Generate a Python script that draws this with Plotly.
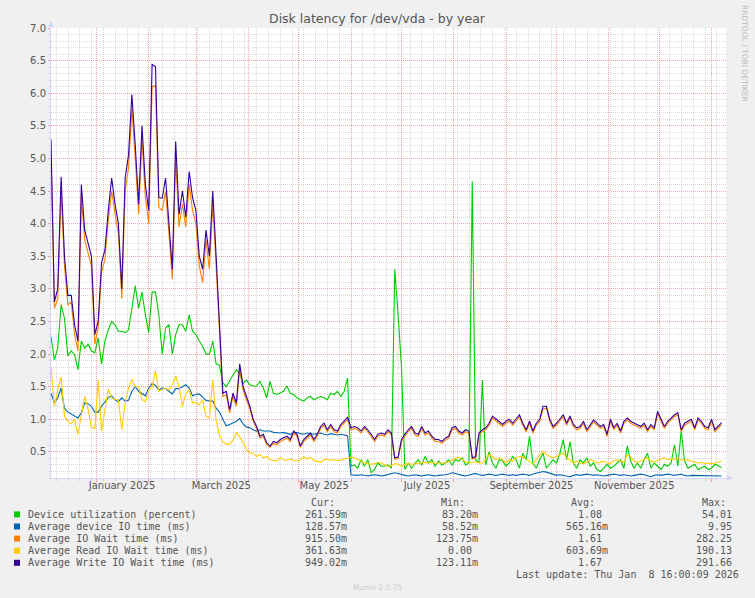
import pandas as pd
import plotly.graph_objects as go

# --- data (2-day samples) ---
x_start = "2024-12-04 21:00"
x_end = "2026-01-09 11:00"
dates = pd.date_range(x_start, periods=200, freq="2D")

util = [
    2.27, 1.91, 2.09, 2.76, 2.55, 1.97, 2.05, 1.99, 1.76, 2.2,
    2.09, 2.15, 2.05, 2.02, 2.25, 1.85, 2.2, 2.37, 2.5, 2.45,
    2.35, 2.35, 2.33, 2.37, 2.7, 3.05, 2.7, 2.95, 2.6, 2.33,
    2.95, 2.95, 2.6, 2.0, 2.4, 2.45, 2.0, 2.3, 2.45, 2.45,
    2.35, 2.6, 2.35, 2.3, 2.2, 2.12, 2.0, 2.0, 2.2, 1.85,
    1.83, 1.56, 1.5, 1.6, 1.68, 1.76, 1.7, 1.55, 1.6, 1.53,
    1.51, 1.51, 1.58, 1.48, 1.33, 1.58, 1.40, 1.38, 1.40, 1.43,
    1.51, 1.40, 1.38, 1.33, 1.30, 1.28, 1.33, 1.35, 1.30, 1.33,
    1.35, 1.33, 1.30, 1.40, 1.38, 1.43, 1.35, 1.43, 1.63, 0.28,
    0.30, 0.25, 0.38, 0.28, 0.38, 0.18, 0.23, 0.33, 0.28, 0.28,
    0.30, 0.25, 3.3, 2.6, 1.8, 0.23, 0.33, 0.25, 0.33, 0.38,
    0.30, 0.43, 0.33, 0.38, 0.28, 0.36, 0.30, 0.33, 0.38, 0.30,
    0.38, 0.36, 0.41, 0.30, 0.33, 4.65, 0.38, 0.33, 1.6, 0.30,
    0.5, 0.33, 0.25, 0.38, 0.36, 0.28, 0.33, 0.43, 0.38, 0.25,
    0.48, 0.38, 0.74, 0.33, 0.25, 0.38, 0.48, 0.25, 0.31, 0.38,
    0.33, 0.48, 0.69, 0.38, 0.66, 0.33, 0.25, 0.38, 0.33, 0.41,
    0.28, 0.33, 0.23, 0.20, 0.25, 0.31, 0.25, 0.28, 0.33, 0.38,
    0.25, 0.59, 0.36, 0.25, 0.33, 0.25, 0.38, 0.48, 0.25, 0.33,
    0.28, 0.23, 0.31, 0.28, 0.33, 0.61, 0.28, 0.82, 0.36, 0.25,
    0.28, 0.31, 0.23, 0.25, 0.28, 0.23, 0.25, 0.31, 0.28, 0.26,
]

dev_io = [
    1.40, 1.25, 1.33, 1.48, 1.17, 1.11, 1.08, 1.05, 1.02, 1.10,
    1.25, 1.24, 1.20, 1.11, 1.11, 1.20, 1.26, 1.33, 1.36, 1.30,
    1.27, 1.33, 1.28, 1.29, 1.43, 1.50, 1.43, 1.39, 1.36, 1.48,
    1.55, 1.52, 1.45, 1.48, 1.47, 1.43, 1.39, 1.47, 1.47, 1.50,
    1.53, 1.48, 1.36, 1.38, 1.39, 1.34, 1.29, 1.28, 1.28, 1.17,
    1.11, 1.00, 0.90, 0.92, 0.94, 0.97, 1.01, 0.93, 0.88, 0.87,
    0.84, 0.82, 0.84, 0.82, 0.82, 0.82, 0.80, 0.79, 0.79, 0.80,
    0.78, 0.77, 0.79, 0.80, 0.78, 0.77, 0.79, 0.78, 0.77, 0.78,
    0.79, 0.77, 0.76, 0.78, 0.77, 0.76, 0.77, 0.76, 0.75, 0.15,
    0.14, 0.14, 0.15, 0.14, 0.13, 0.14, 0.15, 0.14, 0.13, 0.14,
    0.15, 0.16, 0.18, 0.17, 0.15, 0.14, 0.13, 0.14, 0.15, 0.14,
    0.13, 0.14, 0.15, 0.14, 0.13, 0.14, 0.14, 0.15, 0.16, 0.18,
    0.17, 0.15, 0.14, 0.13, 0.14, 0.16, 0.17, 0.15, 0.14, 0.15,
    0.16, 0.15, 0.14, 0.15, 0.16, 0.15, 0.14, 0.15, 0.14, 0.15,
    0.16, 0.15, 0.14, 0.16, 0.17, 0.18, 0.20, 0.19, 0.17, 0.15,
    0.14, 0.15, 0.14, 0.13, 0.12, 0.14, 0.15, 0.14, 0.15, 0.16,
    0.15, 0.14, 0.15, 0.14, 0.13, 0.14, 0.15, 0.16, 0.15, 0.14,
    0.15, 0.14, 0.13, 0.14, 0.15, 0.16, 0.15, 0.14, 0.12, 0.14,
    0.15, 0.14, 0.15, 0.16, 0.15, 0.14, 0.15, 0.16, 0.14, 0.13,
    0.14, 0.14, 0.13, 0.14, 0.13, 0.13, 0.13, 0.13, 0.13, 0.13,
]

io_wait = [
    5.0, 2.7, 2.85, 4.5, 3.35, 2.75, 2.8, 2.3, 2.05, 4.4,
    3.75, 3.55, 3.35, 2.15, 2.4, 3.25, 3.45, 4.05, 4.5, 4.15,
    3.85, 2.85, 4.5, 4.85, 5.75, 5.0, 4.15, 5.3, 4.4, 4.0,
    6.1, 6.12, 4.25, 4.2, 4.5, 3.85, 3.15, 5.0, 3.95, 4.3,
    3.95, 4.6, 4.2, 4.0, 3.35, 3.1, 3.75, 3.3, 4.3, 3.35,
    2.3, 1.35, 1.38, 1.1, 1.35, 1.2, 1.78, 1.45, 1.3, 1.16,
    0.97, 0.86, 0.71, 0.74, 0.61, 0.57, 0.63, 0.61, 0.66, 0.68,
    0.71, 0.66, 0.79, 0.74, 0.57, 0.66, 0.71, 0.76, 0.66, 0.74,
    0.86, 0.91, 0.81, 0.89, 0.81, 0.79, 0.89, 0.94, 1.0, 0.84,
    0.86, 0.84, 0.79, 0.86, 0.81, 0.74, 0.66, 0.74, 0.76, 0.74,
    0.81, 0.76, 0.39, 0.40, 0.66, 0.74, 0.81, 0.86, 0.76, 0.74,
    0.86, 0.76, 0.79, 0.71, 0.66, 0.66, 0.63, 0.68, 0.71, 0.84,
    0.86, 0.79, 0.76, 0.81, 0.79, 0.39, 0.41, 0.76, 0.81, 0.84,
    0.91, 1.02, 0.98, 0.94, 0.89, 0.94, 0.97, 0.91, 0.97, 1.04,
    0.91, 0.81, 0.94, 0.79, 0.91, 0.97, 1.16, 1.17, 0.97, 0.86,
    0.91, 0.97, 1.04, 0.91, 1.02, 0.89, 0.84, 0.86, 0.94, 0.81,
    0.89, 0.96, 0.91, 0.86, 0.89, 0.74, 0.97, 0.84, 0.91, 0.79,
    0.94, 0.99, 0.94, 0.91, 0.89, 0.86, 0.91, 0.81, 0.89, 0.84,
    1.09, 0.97, 0.86, 0.94, 0.99, 1.04, 1.07, 0.81, 0.91, 0.94,
    0.97, 0.84, 0.99, 0.94, 0.86, 0.84, 0.97, 0.81, 0.86, 0.92,
]

read_wait = [
    1.8, 1.2, 1.45, 1.65, 1.05, 0.96, 0.93, 1.0, 0.77, 1.05,
    1.35, 1.15, 0.88, 0.86, 1.6, 0.82, 1.15, 1.46, 1.33, 1.3,
    1.3, 0.84, 1.25, 1.48, 1.61, 1.5, 1.5, 1.3, 1.27, 1.45,
    1.5, 1.75, 1.43, 1.45, 1.48, 1.45, 1.53, 1.66, 1.5, 1.2,
    1.4, 1.45, 1.25, 1.26, 1.22, 1.3, 1.05, 1.02, 1.6, 0.98,
    0.76, 0.65, 0.62, 0.62, 0.68, 0.8, 0.73, 0.64, 0.54, 0.48,
    0.48, 0.43, 0.46, 0.41, 0.43, 0.38, 0.37, 0.36, 0.41, 0.38,
    0.37, 0.39, 0.37, 0.36, 0.38, 0.43, 0.39, 0.42, 0.37, 0.36,
    0.34, 0.38, 0.39, 0.37, 0.38, 0.37, 0.37, 0.39, 0.41, 0.42,
    0.41, 0.38, 0.36, 0.33, 0.32, 0.31, 0.32, 0.34, 0.33, 0.31,
    0.28, 0.29, 0.32, 0.31, 0.28, 0.31, 0.32, 0.31, 0.32, 0.33,
    0.33, 0.34, 0.33, 0.34, 0.33, 0.33, 0.33, 0.33, 0.35, 0.38,
    0.40, 0.42, 0.38, 0.35, 0.33, 0.34, 0.35, 0.33, 0.33, 0.38,
    0.46, 0.43, 0.38, 0.41, 0.38, 0.33, 0.38, 0.36, 0.41, 0.43,
    0.43, 0.38, 0.36, 0.31, 0.38, 0.46, 0.51, 0.46, 0.43, 0.41,
    0.43, 0.46, 0.48, 0.41, 0.38, 0.33, 0.36, 0.33, 0.32, 0.34,
    0.38, 0.36, 0.33, 0.34, 0.36, 0.33, 0.32, 0.36, 0.38, 0.36,
    0.34, 0.46, 0.43, 0.36, 0.34, 0.36, 0.38, 0.41, 0.36, 0.34,
    0.37, 0.39, 0.41, 0.38, 0.38, 0.39, 0.41, 0.38, 0.37, 0.38,
    0.36, 0.34, 0.33, 0.34, 0.32, 0.33, 0.32, 0.33, 0.34, 0.36,
]

write_wait = [
    5.29, 2.8, 3.0, 4.72, 3.5, 2.9, 2.9, 2.45, 2.2, 4.6,
    3.9, 3.7, 3.5, 2.3, 2.5, 3.4, 3.6, 4.2, 4.7, 4.3,
    4.0, 3.0, 4.7, 5.05, 5.98, 5.2, 4.3, 5.5, 4.6, 4.2,
    6.44, 6.41, 4.4, 4.39, 4.7, 4.0, 3.3, 5.26, 4.14, 4.5,
    4.1, 4.8, 4.4, 4.2, 3.5, 3.3, 3.9, 3.5, 4.5, 3.5,
    2.4, 1.4, 1.43, 1.15, 1.4, 1.25, 1.85, 1.5, 1.35, 1.2,
    1.0, 0.89, 0.74, 0.77, 0.64, 0.59, 0.66, 0.64, 0.69, 0.71,
    0.74, 0.69, 0.82, 0.77, 0.59, 0.69, 0.74, 0.79, 0.69, 0.77,
    0.89, 0.94, 0.84, 0.92, 0.84, 0.82, 0.92, 0.97, 1.03, 0.87,
    0.89, 0.87, 0.82, 0.89, 0.84, 0.77, 0.69, 0.77, 0.79, 0.77,
    0.84, 0.79, 0.41, 0.42, 0.69, 0.77, 0.84, 0.89, 0.79, 0.77,
    0.89, 0.79, 0.82, 0.74, 0.69, 0.69, 0.66, 0.71, 0.74, 0.87,
    0.89, 0.82, 0.79, 0.84, 0.82, 0.41, 0.43, 0.79, 0.84, 0.87,
    0.94, 1.05, 1.01, 0.97, 0.92, 0.97, 1.0, 0.94, 1.0, 1.07,
    0.94, 0.84, 0.97, 0.82, 0.94, 1.0, 1.2, 1.2, 1.0, 0.89,
    0.94, 1.0, 1.07, 0.94, 1.05, 0.92, 0.87, 0.89, 0.97, 0.84,
    0.92, 0.99, 0.94, 0.89, 0.92, 0.77, 1.0, 0.87, 0.94, 0.82,
    0.97, 1.02, 0.97, 0.94, 0.92, 0.89, 0.94, 0.84, 0.92, 0.87,
    1.12, 1.0, 0.89, 0.97, 1.02, 1.07, 1.1, 0.84, 0.94, 0.97,
    1.0, 0.87, 1.02, 0.97, 0.89, 0.87, 1.0, 0.84, 0.89, 0.95,
]

series_names = [
    "Device utilization (percent)",
    "Average device IO time (ms)",
    "Average IO Wait time (ms)",
    "Average Read IO Wait time (ms)",
    "Average Write IO Wait time (ms)",
]
series_colors = ["#00CC00", "#0066B3", "#FF8000", "#FFCC00", "#330099"]
series_values = [util, dev_io, io_wait, read_wait, write_wait]

cur_vals = ["261.59m", "128.57m", "915.50m", "361.63m", "949.02m"]
min_vals = ["83.20m", "58.52m", "123.75m", "0.00\u00a0", "123.11m"]
avg_vals = ["1.08\u00a0", "565.16m", "1.61\u00a0", "603.69m", "1.67\u00a0"]
max_vals = ["54.01\u00a0", "9.95\u00a0", "282.25\u00a0", "190.13\u00a0", "291.66\u00a0"]

month_label_dates = ["2025-01-16", "2025-03-16", "2025-05-16",
                     "2025-07-16", "2025-09-16", "2025-11-16"]
month_labels = ["January 2025", "March 2025", "May 2025",
                "July 2025", "September 2025", "November 2025"]

title = "Disk latency for /dev/vda - by year"
last_update = "Last update: Thu Jan\u00a0 8 16:00:09 2026"

# --- page geometry (pixels) ---
W, H = 755, 598
PL, PT, PW, PH = 51, 28, 675, 450


def px(x):
    return (x - PL) / PW


def py(y):
    return (PT + PH - y) / PH


AXIS = "#CFD6F8"
FONT = "#555555"
MGRID = "rgba(222,79,79,0.5)"
GRID = "rgba(143,143,143,0.32)"
MONO = "DejaVu Sans Mono"
SANS = "DejaVu Sans"

fig = go.Figure()

# dummy trace so the grid axis exists
fig.add_trace(go.Scatter(x=[x_start, x_end], y=[None, None], xaxis="x", yaxis="y",
                         showlegend=False, hoverinfo="skip", mode="lines"))

for name, color, vals in zip(series_names, series_colors, series_values):
    fig.add_trace(go.Scatter(
        x=dates, y=vals, name=name, mode="lines", xaxis="x2", yaxis="y",
        line=dict(color=color, width=1.1), showlegend=False, hoverinfo="skip",
    ))

fig.update_layout(
    width=W, height=H,
    margin=dict(l=PL, r=W - PL - PW, t=PT, b=H - PT - PH),
    paper_bgcolor="#F0F0F0",
    plot_bgcolor="#FFFFFF",
    font=dict(family=SANS, size=10, color=FONT),
    showlegend=False,
    hovermode=False,
    xaxis=dict(
        type="date", range=[x_start, x_end],
        dtick="M1", tick0="2025-01-01",
        showgrid=True, gridcolor=MGRID, griddash="1px,1px", gridwidth=1,
        showticklabels=False, ticks="outside", ticklen=3, tickcolor=MGRID,
        minor=dict(dtick=7 * 24 * 3600 * 1000, tick0="2024-12-01",
                   showgrid=True, gridcolor=GRID, griddash="1px,1px",
                   ticks="outside", ticklen=2, tickcolor=GRID),
        showline=True, linecolor=AXIS, linewidth=1, zeroline=False,
    ),
    xaxis2=dict(
        type="date", range=[x_start, x_end], overlaying="x", anchor="y", side="bottom",
        tickvals=month_label_dates, ticktext=month_labels,
        showgrid=False, ticks="", showline=False, zeroline=False,
        tickfont=dict(family=SANS, size=10, color=FONT),
    ),
    yaxis=dict(
        range=[0.1, 7.0], dtick=0.5, tick0=0, tickformat=".1f",
        showgrid=True, gridcolor=MGRID, griddash="1px,1px", gridwidth=1,
        ticks="outside", ticklen=2, tickcolor=MGRID,
        minor=dict(dtick=0.1, showgrid=True, gridcolor=GRID, griddash="1px,1px",
                   ticks="outside", ticklen=1, tickcolor=GRID),
        showline=True, linecolor=AXIS, linewidth=1, zeroline=False,
        tickfont=dict(family=SANS, size=10, color=FONT),
    ),
)

annotations = []
shapes = []

# title and side texts
annotations.append(dict(text=title, x=px(377.5), y=py(19), xref="paper", yref="paper",
                        showarrow=False, xanchor="center", yanchor="middle",
                        font=dict(family=SANS, size=12.5, color=FONT)))
annotations.append(dict(text="RRDTOOL / TOBI OETIKER", x=px(745), y=py(53), xref="paper",
                        yref="paper", showarrow=False, textangle=90,
                        xanchor="center", yanchor="middle",
                        font=dict(family=SANS, size=7.5, color="#BBBBBB")))
annotations.append(dict(text="Munin 2.0.75", x=px(377), y=py(587), xref="paper", yref="paper",
                        showarrow=False, xanchor="center", yanchor="middle",
                        font=dict(family=SANS, size=7.5, color="#CCCCCC")))

# axis arrows
shapes.append(dict(type="path", xref="paper", yref="paper",
                   path=f"M {px(48)},{py(27)} L {px(54)},{py(27)} L {px(51)},{py(21)} Z",
                   fillcolor=AXIS, line=dict(width=0)))
shapes.append(dict(type="line", xref="paper", yref="paper",
                   x0=px(726), x1=px(729), y0=py(478), y1=py(478),
                   line=dict(color=AXIS, width=1)))
shapes.append(dict(type="path", xref="paper", yref="paper",
                   path=f"M {px(727)},{py(475)} L {px(727)},{py(481)} L {px(733)},{py(478)} Z",
                   fillcolor=AXIS, line=dict(width=0)))

# legend table
mono = dict(family=MONO, size=10, color=FONT)
header_y = 502.7
for txt, right in [("Cur:", 337), ("Min:", 467), ("Avg:", 597), ("Max:", 728)]:
    annotations.append(dict(text=txt, x=px(right), y=py(header_y), xref="paper", yref="paper",
                            showarrow=False, xanchor="right", yanchor="middle", font=mono))

row0, row_step = 514.4, 12.1
for i, (name, color) in enumerate(zip(series_names, series_colors)):
    ry = row0 + i * row_step
    shapes.append(dict(type="rect", xref="paper", yref="paper",
                       x0=px(14), x1=px(20), y0=py(ry + 3), y1=py(ry - 3),
                       fillcolor=color, line=dict(width=0)))
    annotations.append(dict(text=name, x=px(26), y=py(ry), xref="paper", yref="paper",
                            showarrow=False, xanchor="left", yanchor="middle", font=mono))
    for col, right in [(cur_vals, 349), (min_vals, 480), (avg_vals, 610), (max_vals, 740)]:
        annotations.append(dict(text=col[i], x=px(right), y=py(ry), xref="paper",
                                yref="paper", showarrow=False, xanchor="right",
                                yanchor="middle", font=mono))

annotations.append(dict(text=last_update, x=px(741), y=py(574.3), xref="paper", yref="paper",
                        showarrow=False, xanchor="right", yanchor="middle", font=mono))

fig.update_layout(annotations=annotations, shapes=shapes)

# the page's default body margin would push the figure 8px off the corner
fig.write_html("out.html", config={"displayModeBar": False},
               post_script="document.body.style.margin='0px';")
